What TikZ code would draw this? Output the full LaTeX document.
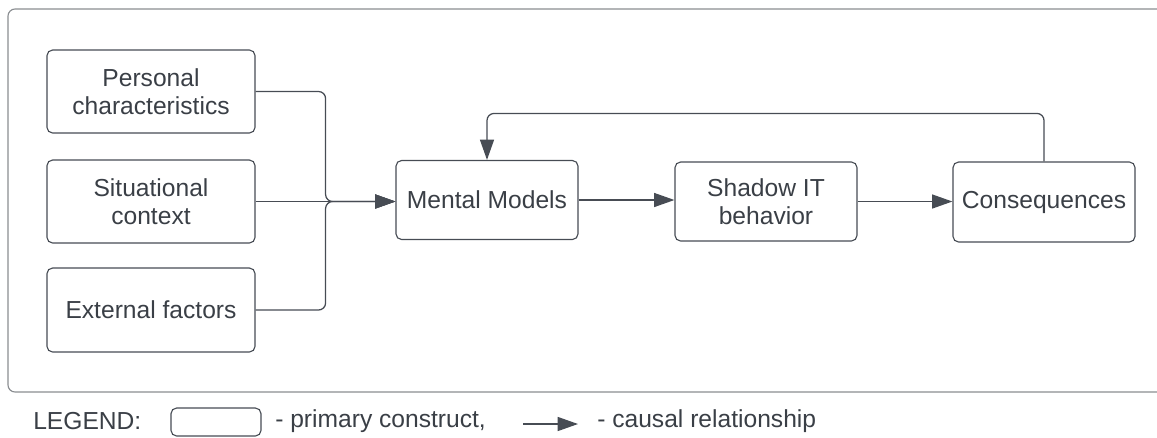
\documentclass[tikz,border=0pt]{standalone}
\usepackage{fontspec}
\setmainfont{Liberation Sans}
\usepackage{tikz}
\usetikzlibrary{arrows.meta,calc,positioning}
\definecolor{linegray}{HTML}{474C54}
\definecolor{framegray}{HTML}{8A8D91}
\definecolor{textgray}{HTML}{3A3F46}

\tikzset{
  construct/.style={draw=linegray, line width=0.8pt, rounded corners=4pt,
    align=center, text=textgray, inner sep=0pt,
    font=\fontsize{17.5}{20}\selectfont},
  causal/.style={draw=linegray, line width=0.9pt,
    -{Triangle[length=14.5pt,width=10pt]}},
  legtext/.style={text=textgray, inner sep=0pt, anchor=west,
    font=\fontsize{17.5}{20}\selectfont}
}

\begin{document}
\begin{tikzpicture}[x=0.025cm,y=-0.025cm]
        \useasboundingbox (0,0) rectangle (1157,437);
        %Frame
        \draw[framegray, line width=0.8pt, rounded corners=5pt]
          (1160,9) -- (8,9) -- (8,392) -- (1160,392);
        %Left constructs
        \node[construct, minimum width=5.2cm, minimum height=2.075cm] (c1) at (151,91.5) {Personal\\characteristics};
        \node[construct, minimum width=5.2cm, minimum height=2.075cm] (c2) at (151,201.5) {Situational\\context};
        \node[construct, minimum width=5.2cm, minimum height=2.1cm] (c3) at (151,310) {External factors};
        %Chain
        \node[construct, minimum width=4.55cm, minimum height=1.975cm] (c4) at (487,200) {Mental Models};
        \node[construct, minimum width=4.55cm, minimum height=1.975cm] (c5) at (766,201.5) {Shadow IT\\behavior};
        \node[construct, minimum width=4.55cm, minimum height=2cm] (c6) at (1044,202) {Consequences};
        %Arrows
        \draw[causal, rounded corners=5pt] (c1.east) -- ++(70,0) |- (c2.east -| c4.west);
        \draw[causal, rounded corners=5pt] (c3.east) -- ++(70,0) |- (c2.east -| c4.west);
        \draw[causal] (c2.east) -- (c2.east -| c4.west);
        \draw[causal] (c4.east) -- (c4.east -| c5.west);
        \draw[causal] (c5.east) -- (c5.east -| c6.west);
        \draw[causal, rounded corners=5pt] (c6.north) -- ++(0,-48) -| (c4.north);
        %Legend
        \node[legtext] (l1) at (33,421) {LEGEND:};
        \node[construct, minimum width=2.25cm, minimum height=0.7cm] (l2) at (216,422) {};
        \node[legtext] (l3) at (275,421) {- primary construct,};
        \coordinate (a1) at (523,424);
        \coordinate (a2) at (578,424);
        \draw[causal] (a1) -- (a2);
        \node[legtext] (l4) at (597,421) {- causal relationship};
\end{tikzpicture}
\end{document}
